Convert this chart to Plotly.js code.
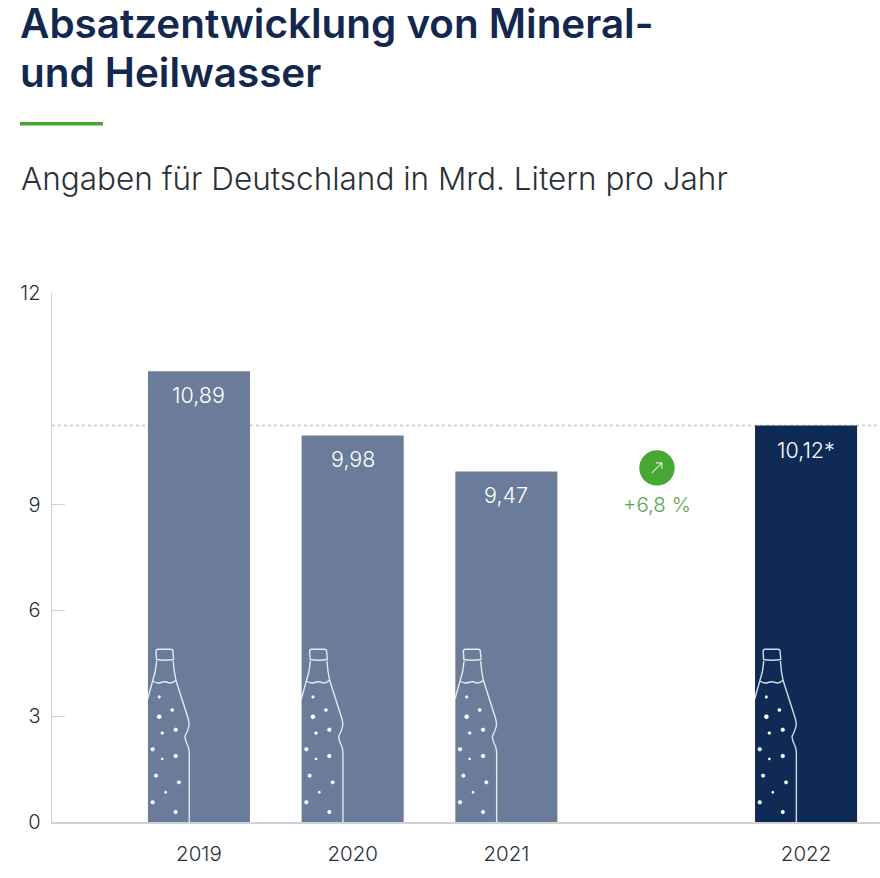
<!DOCTYPE html>
<html><head><meta charset="utf-8">
<script src="https://cdn.plot.ly/plotly-3.0.1.min.js"></script>
<style>html,body{margin:0;padding:0;background:#fff}</style></head>
<body><div id="chart" style="width:880px;height:878px"></div>
<script>
const years = ['2019','2020','2021','2022'];
const values = [10.89, 9.98, 9.47, 10.12];
const valueLabels = ['10,89','9,98','9,47','10,12*'];
const yTicks = [0,3,6,9,12];
const yTickLabels = ['0','3','6','9','12'];
const changeLabel = '+6,8 %';

// The reference's axis is stretched above 9: one unit there is twice as tall as below it.
const BREAK=9, STRETCH=2;
const pos = v => v<=BREAK ? v : BREAK+(v-BREAK)*STRETCH;
// horizontal slot of each year (a gap precedes the last one)
const slot = y => y === '2022' ? 3.95 : years.indexOf(y);

const NAVY='#0f2a55', SLATE='#6a7c99', GREEN='#46a732', AXIS='#cfd2d6', INK='#2b2f36';
const FONT='Inter, "Noto Sans", sans-serif';
const xs = years.map(slot);
const colors = years.map(y => y==='2022'?NAVY:SLATE);

const bars={type:'bar',x:xs,y:values.map(pos),width:0.664,marker:{color:colors,line:{width:0}},hoverinfo:'skip',showlegend:false};

const bottlePath='M-42.5,162.5 L-43,170.5 Q-43,172.7 -41,172.7 L-28,172.7 Q-26,172.7 -26,170.5 L-25.3,162.5 Q-34,161 -42.5,162.5 Z '+
 'M-42.3,161 Q-43,150 -46.3,141 L-51.3,123.3 M-25.7,161 Q-25,150 -23,141.7 L-10.7,103.3 Q-9.3,98 -10.3,95 Q-11,91 -14,85.7 Q-14,82 -11,76 Q-9.7,73 -9.7,69 L-9.7,0 '+
 'M-46.3,141 Q-42,138 -38,139.5 Q-34,141 -31,139.5 Q-27,138 -23,141.7';
const dots=[[-39.7,125,1.4],[-26.7,112,1.7],[-39.7,105.3,2.2],[-36.7,89,1.6],[-23.3,92.3,2],[-46.3,72.7,2],[-36.7,63,1.2],[-23.3,66,2],[-43,46.3,1.9],[-20,39.7,1.9],[-33.3,29.7,1.3],[-46.3,19.7,2],[-23.3,10,1.9]];
const K=0.5523;
const dotsPath=dots.map(([x,y,r])=>{const k=r*K;return `M${x-r},${y} C${x-r},${y+k} ${x-k},${y+r} ${x},${y+r} C${x+k},${y+r} ${x+r},${y+k} ${x+r},${y} C${x+r},${y-k} ${x+k},${y-r} ${x},${y-r} C${x-k},${y-r} ${x-r},${y-k} ${x-r},${y} Z`;}).join(' ');

const shapes=[];
xs.forEach(x=>{
  shapes.push({type:'path',xref:'x',yref:'y',xsizemode:'pixel',ysizemode:'pixel',xanchor:x,yanchor:0,path:bottlePath,line:{color:'rgba(255,255,255,0.82)',width:1.4},layer:'above'});
  shapes.push({type:'path',xref:'x',yref:'y',xsizemode:'pixel',ysizemode:'pixel',xanchor:x,yanchor:0,path:dotsPath,line:{color:'#fff',width:0.2},fillcolor:'#fff',layer:'above'});
});
// reference line at the 2022 value
shapes.push({type:'line',xref:'paper',x0:0,x1:1,yref:'y',y0:pos(values[3]),y1:pos(values[3]),line:{color:'#c4c6ca',width:1.5,dash:'dot'},layer:'below'});
// green accent below the title
shapes.push({type:'rect',xref:'paper',yref:'paper',xsizemode:'pixel',ysizemode:'pixel',xanchor:0,yanchor:1,x0:-32,x1:51,y0:167.5,y1:171,line:{width:0},fillcolor:GREEN});
// arrow badge
const BX=2.98, BY=10.04;
shapes.push({type:'circle',xref:'x',yref:'y',xsizemode:'pixel',ysizemode:'pixel',xanchor:BX,yanchor:BY,x0:-17.7,x1:17.7,y0:-17.7,y1:17.7,line:{width:0},fillcolor:GREEN});
shapes.push({type:'path',xref:'x',yref:'y',xsizemode:'pixel',ysizemode:'pixel',xanchor:BX,yanchor:BY,path:'M-5,-5 L5,5 M-1,5 L5,5 L5,-1',line:{color:'#dcefd6',width:1.1}});

const annotations=[
 {text:'Angaben für Deutschland in Mrd. Litern pro Jahr',xref:'paper',yref:'paper',x:0,xshift:-33,y:1,yshift:115,xanchor:'left',yanchor:'middle',showarrow:false,font:{family:FONT,size:31.5,color:'#2c3138',weight:300},align:'left'},
 {text:changeLabel,xref:'x',yref:'y',x:BX,y:BREAK,xanchor:'center',yanchor:'middle',showarrow:false,font:{family:FONT,size:20.5,color:'#5aa653',weight:300}},
 ...xs.map((x,i)=>({text:valueLabels[i],xref:'x',yref:'y',x,y:pos(values[i]),yshift:-24,xanchor:'center',yanchor:'middle',showarrow:false,font:{family:FONT,size:21.5,color:'#fff',weight:300}})),
];

const TICK={family:FONT,size:20,color:INK,weight:300};
const BIG='<span style="font-size:40.4px">';
const layout={
 width:880,height:878,paper_bgcolor:'#fff',plot_bgcolor:'#fff',
 margin:{l:52,r:0,t:293,b:56,pad:0},
 showlegend:false,
 title:{text:BIG+'Absatzentwicklung von Mineral-</span><br>'+BIG+'und Heilwasser</span>',xref:'container',yref:'container',x:20/880,xanchor:'left',y:1-38/878,yanchor:'top',font:{family:FONT,size:37.7,color:'#14284f',weight:600}},
 xaxis:{range:[-0.956,4.431],tickvals:xs,ticktext:years,showgrid:false,zeroline:false,showline:true,linecolor:AXIS,linewidth:1.5,ticks:'',tickfont:{family:FONT,size:20.5,color:INK,weight:300},ticklabelstandoff:13,fixedrange:true},
 yaxis:{range:[0,pos(12)],tickvals:yTicks.map(pos),ticktext:yTickLabels,showgrid:false,zeroline:false,showline:true,linecolor:AXIS,linewidth:1.5,ticks:'inside',ticklen:13,tickwidth:1,tickcolor:AXIS,tickfont:TICK,ticklabelstandoff:6,fixedrange:true},
 shapes,annotations
};
Plotly.newPlot('chart',[bars],layout,{displayModeBar:false,staticPlot:true});
</script></body></html>
